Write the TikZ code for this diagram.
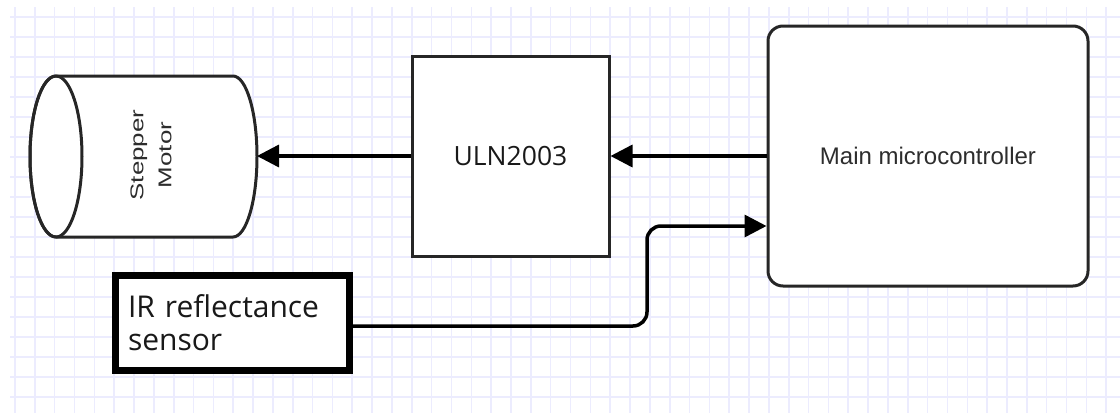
\documentclass[tikz,border=0pt]{standalone}
\usepackage{fontspec}
\setmainfont{Liberation Sans}
\newfontfamily\osans{Open Sans}
\usetikzlibrary{arrows.meta}
\definecolor{gridc}{RGB}{236,236,254}
\definecolor{txt}{RGB}{45,45,45}
\tikzset{
  gridline/.style={draw=gridc, line width=1.6pt},
  shapeline/.style={draw=black!85, line width=3pt},
  box/.style={shapeline, fill=white, inner sep=0pt},
  conn/.style={draw=black, line width=3.5pt, -{Triangle[length=22pt,width=22pt]}},
}
\begin{document}
\begin{tikzpicture}[x=1pt,y=-1pt]
\useasboundingbox (0,0) rectangle (1120,413);
\fill[white] (0,0) rectangle (1120,413);
% grid
\foreach \k in {0,...,55} \draw[gridline] ({15+19.84*\k},7) -- ({15+19.84*\k},413);
\foreach \k in {0,...,19} \draw[gridline] (10,{17+20*\k}) -- (1120,{17+20*\k});
% stepper motor cylinder
\filldraw[shapeline, fill=white] (56,76) -- (233,76)
  arc[start angle=-90, end angle=90, x radius=24, y radius=80.5]
  -- (56,237)
  arc[start angle=90, end angle=270, x radius=26, y radius=80.5] -- cycle;
\draw[shapeline] (56,156.5) ellipse[x radius=26, y radius=80.5];
\node[text=txt, rotate=90, align=center, inner sep=0pt,
      font=\fontsize{18.5}{28}\selectfont] (motor) at (151,155)
  {\scalebox{1.4}[1]{Stepper}\\\scalebox{1.4}[1]{Motor}};
\coordinate (motorR) at (257,156);
% ULN2003
\node[box, minimum width=197pt, minimum height=200pt, text=black!90,
      font=\osans\fontsize{26.5}{32}\selectfont] (uln) at (510.5,156) {ULN2003};
% main microcontroller
\node[box, rounded corners=15pt, minimum width=320pt, minimum height=260pt,
      text=txt, font=\fontsize{24}{28}\selectfont] (main) at (928,156) {Main microcontroller};
% IR sensor
\node[draw=black, line width=7pt, fill=white, minimum width=234pt, minimum height=95pt,
      inner xsep=12.5pt, inner ysep=0pt, text width=209pt, align=left, text=black!90,
      font=\osans\fontsize{30}{33}\selectfont] (ir) at (232.5,323) {IR reflectance\\sensor};
% connectors
\coordinate (turn) at (647,226);
\draw[conn] (uln.west) -- (motorR);
\draw[conn] (main.west) -- (uln.east);
\draw[conn, rounded corners=14pt] ([yshift=-3pt]ir.east) -| (turn) -- ([yshift=-70pt]main.west);
\end{tikzpicture}
\end{document}
